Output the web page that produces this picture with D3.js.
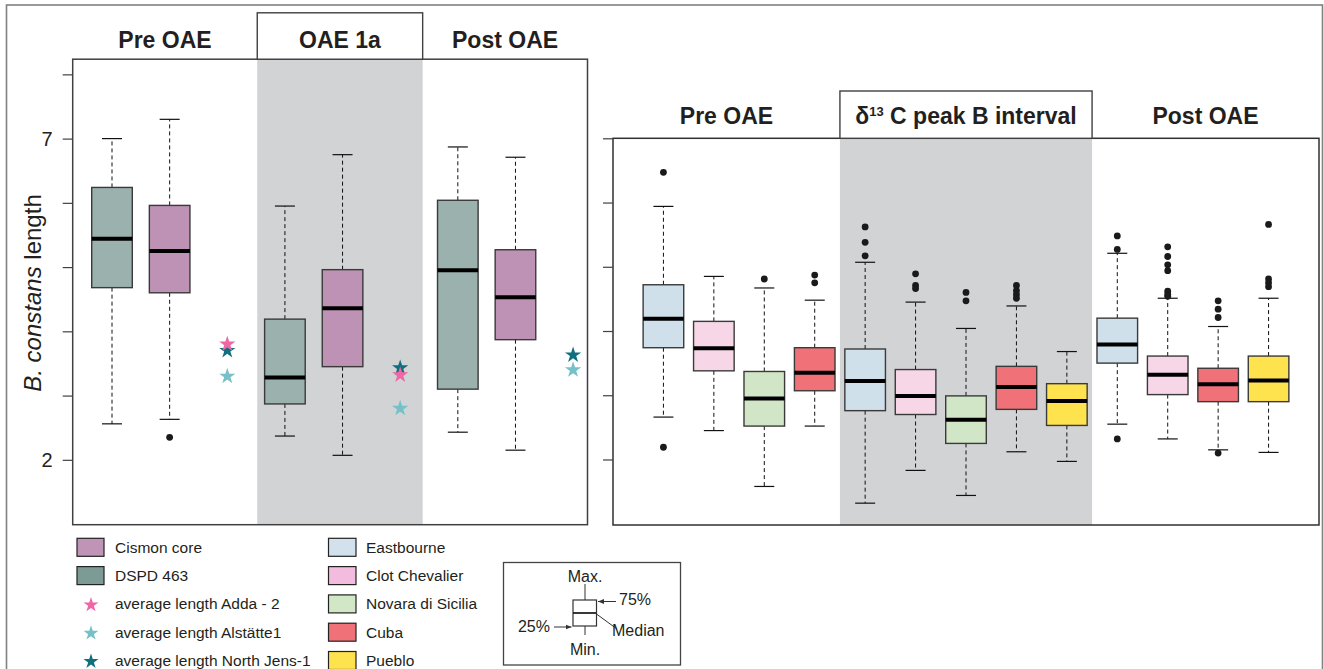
<!DOCTYPE html>
<html>
<head>
<meta charset="utf-8">
<script src="https://cdn.jsdelivr.net/npm/d3@7"></script>
<style>
  body { margin: 0; background: #fff; }
  text { font-family: "Liberation Sans", Arial, sans-serif; fill: #231f20; }
</style>
</head>
<body>
<div id="chart"></div>
<script>
// ---- left panel data (B. constans length) ----
const leftGroups = ["Pre OAE", "OAE 1a", "Post OAE"];
// [min, q1, median, q3, max]
const dspd463 = [[2.56, 4.68, 5.44, 6.24, 7.0], [2.37, 2.87, 3.28, 4.19, 5.95], [2.43, 3.1, 4.95, 6.04, 6.87]];
const cismonCore = [[2.63, 4.6, 5.25, 5.96, 7.3], [2.07, 3.45, 4.36, 4.96, 6.75], [2.15, 3.87, 4.53, 5.27, 6.71]];
const cismonOutliers = [[2.35], [], []];
const avgAdda2 = [3.8, 3.32, null];
const avgAlstatte1 = [3.3, 2.8, 3.4];
const avgNorthJens1 = [3.7, 3.43, 3.63];

// ---- right panel data ----
const rightGroups = ["Pre OAE", "peak B", "Post OAE"];
const rightSites = [
  ["Eastbourne", "Clot Chevalier", "Novara di Sicilia", "Cuba"],
  ["Eastbourne", "Clot Chevalier", "Novara di Sicilia", "Cuba", "Pueblo"],
  ["Eastbourne", "Clot Chevalier", "Cuba", "Pueblo"]
];
const rightStats = [
  [[2.66, 3.74, 4.19, 4.72, 5.94], [2.45, 3.38, 3.73, 4.15, 4.85], [1.58, 2.52, 2.95, 3.37, 4.67], [2.52, 3.07, 3.35, 3.74, 4.48]],
  [[1.32, 2.76, 3.22, 3.72, 5.07], [1.83, 2.7, 2.99, 3.4, 4.45], [1.44, 2.25, 2.62, 2.99, 4.04], [2.12, 2.78, 3.13, 3.45, 4.39], [1.97, 2.53, 2.91, 3.18, 3.68]],
  [[2.55, 3.5, 3.79, 4.2, 5.21], [2.32, 3.01, 3.32, 3.61, 4.51], [2.15, 2.9, 3.17, 3.42, 4.07], [2.11, 2.9, 3.23, 3.61, 4.51]]
];
const rightOutliers = [
  [[6.47, 2.19], [], [4.81], [4.87, 4.75]],
  [[5.62, 5.38, 5.17], [4.89, 4.71, 4.66], [4.6, 4.47], [4.71, 4.63, 4.57, 4.51], []],
  [[5.48, 5.27, 2.32], [5.31, 5.16, 5.03, 4.94, 4.62, 4.57, 4.54], [4.47, 4.34, 4.21, 2.1], [5.66, 4.81, 4.75, 4.69]]
];

const siteColor = {
  "Eastbourne": "#cfe0eb", "Clot Chevalier": "#f6d6e7", "Novara di Sicilia": "#d0e6c6",
  "Cuba": "#f07177", "Pueblo": "#fee24e"
};
const legendLeft = ["Cismon core", "DSPD 463", "average length Adda - 2", "average length Alstätte1", "average length North Jens-1"];
const legendLeftColor = ["#bf94b7", "#7c9b95", "#f067a6", "#76c1c8", "#0f6f7f"];
const legendRight = ["Eastbourne", "Clot Chevalier", "Novara di Sicilia", "Cuba", "Pueblo"];
const legendRightColor = ["#d2e1ec", "#f3bcdf", "#d1e7c5", "#f07177", "#fee24e"];

const width = 1324, height = 669;
const boxW = 40.6, capW = 20;

const svg = d3.select("#chart").append("svg")
  .attr("width", width).attr("height", height);

svg.append("rect").attr("x", 6.5).attr("y", 5).attr("width", 1316).attr("height", 700)
  .attr("fill", "#fff").attr("stroke", "#808080").attr("stroke-width", 1.6);

function drawBox(g, cx, y, s, color, outs) {
  const [mn, q1, md, q3, mx] = s;
  g.append("line").attr("x1", cx).attr("x2", cx).attr("y1", y(q3)).attr("y2", y(mx))
    .attr("stroke", "#111").attr("stroke-dasharray", "4,3");
  g.append("line").attr("x1", cx).attr("x2", cx).attr("y1", y(q1)).attr("y2", y(mn))
    .attr("stroke", "#111").attr("stroke-dasharray", "4,3");
  [mn, mx].forEach(v => g.append("line")
    .attr("x1", cx - capW / 2).attr("x2", cx + capW / 2).attr("y1", y(v)).attr("y2", y(v))
    .attr("stroke", "#111").attr("stroke-width", 1.2));
  g.append("rect").attr("x", cx - boxW / 2).attr("width", boxW)
    .attr("y", y(q3)).attr("height", y(q1) - y(q3))
    .attr("fill", color).attr("stroke", "#3a3a3a").attr("stroke-width", 1.4);
  g.append("line").attr("x1", cx - boxW / 2).attr("x2", cx + boxW / 2)
    .attr("y1", y(md)).attr("y2", y(md)).attr("stroke", "#000").attr("stroke-width", 4);
  (outs || []).forEach(v => g.append("circle").attr("cx", cx).attr("cy", y(v))
    .attr("r", 3.4).attr("fill", "#1a1a1a"));
}

function header(x0, x1, yBase, label, boxed, boxTop, boxBottom) {
  if (boxed) {
    svg.append("rect").attr("x", x0).attr("y", boxTop).attr("width", x1 - x0)
      .attr("height", boxBottom - boxTop).attr("fill", "#fff")
      .attr("stroke", "#404040").attr("stroke-width", 1.4);
  }
  const t = svg.append("text").attr("x", (x0 + x1) / 2).attr("y", yBase)
    .attr("text-anchor", "middle").style("font-size", "23px").style("font-weight", "bold");
  if (label === "peak B") {
    t.append("tspan").text("δ");
    t.append("tspan").attr("dy", -8).style("font-size", "13px").text("13");
    t.append("tspan").attr("dy", 8).text(" C peak B interval");
  } else {
    t.text(label);
  }
}

// ---------- left panel ----------
const lx = d3.scaleLinear().domain([0.318, 9.25]).range([72.7, 587.5]);
const ly = d3.scaleLinear().domain([0.99, 8.236]).range([524.7, 59.2]);
const leftBounds = [0.318, 3.52, 6.39, 9.25];

svg.append("rect").attr("x", lx(leftBounds[1])).attr("y", ly.range()[1])
  .attr("width", lx(leftBounds[2]) - lx(leftBounds[1]))
  .attr("height", ly.range()[0] - ly.range()[1]).attr("fill", "#d1d3d4");

const gl = svg.append("g");
leftGroups.forEach((grp, i) => {
  drawBox(gl, lx(3 * i + 1), ly, dspd463[i], "#9ab1ad", []);
  drawBox(gl, lx(3 * i + 2), ly, cismonCore[i], "#bd92b4", cismonOutliers[i]);
});

const star = d3.symbol(d3.symbolStar, 82);
[[avgAlstatte1, "#76c1c8"], [avgNorthJens1, "#0f6f7f"], [avgAdda2, "#f067a6"]].forEach(([arr, c]) => {
  arr.forEach((v, i) => {
    if (v == null) return;
    gl.append("path").attr("d", star())
      .attr("transform", `translate(${lx(3 * i + 3)},${ly(v)})`).attr("fill", c);
  });
});

svg.append("rect").attr("x", 72.7).attr("y", 59.2).attr("width", 587.5 - 72.7)
  .attr("height", 524.7 - 59.2).attr("fill", "none").attr("stroke", "#404040").attr("stroke-width", 1.5);

const leftAxis = svg.append("g").attr("transform", "translate(72.7,0)")
  .call(d3.axisLeft(ly).tickValues([2, 3, 4, 5, 6, 7, 8]).tickSize(10).tickPadding(10)
    .tickFormat(d => (d === 2 || d === 7) ? d : ""));
leftAxis.select(".domain").remove();
leftAxis.selectAll("line").attr("stroke", "#404040").attr("stroke-width", 1.2);
leftAxis.selectAll("text").style("font-size", "20px").attr("fill", "#231f20")
  .style("font-family", "Liberation Sans, Arial, sans-serif");

leftGroups.forEach((grp, i) => {
  header(lx(leftBounds[i]), lx(leftBounds[i + 1]), 48, grp, i === 1, 12.8, 59.2);
});

const yl = svg.append("text").attr("transform", "translate(41,293) rotate(-90)")
  .attr("text-anchor", "middle").style("font-size", "24px");
yl.append("tspan").style("font-style", "italic").text("B. constans");
yl.append("tspan").text(" length");

// ---------- right panel ----------
const rx = d3.scaleLinear().domain([0, 14]).range([613, 1319]);
const ry = d3.scaleLinear().domain([0.98, 7]).range([525, 138.3]);
const rightBounds = [0, 4.5, 9.5, 14];

svg.append("rect").attr("x", rx(rightBounds[1])).attr("y", ry.range()[1])
  .attr("width", rx(rightBounds[2]) - rx(rightBounds[1]))
  .attr("height", ry.range()[0] - ry.range()[1]).attr("fill", "#d1d3d4");

const gr = svg.append("g");
let pos = 1;
rightSites.forEach((sites, gi) => {
  sites.forEach((site, si) => {
    drawBox(gr, rx(pos), ry, rightStats[gi][si], siteColor[site], rightOutliers[gi][si]);
    pos++;
  });
});

svg.append("rect").attr("x", 613).attr("y", 138.3).attr("width", 1319 - 613)
  .attr("height", 525 - 138.3).attr("fill", "none").attr("stroke", "#303030").attr("stroke-width", 1.5);

const rightAxis = svg.append("g").attr("transform", "translate(613,0)")
  .call(d3.axisLeft(ry).tickValues([2, 3, 4, 5, 6, 7]).tickSize(10).tickFormat(""));
rightAxis.select(".domain").remove();
rightAxis.selectAll("line").attr("stroke", "#404040").attr("stroke-width", 1.2);

rightGroups.forEach((grp, i) => {
  header(rx(rightBounds[i]), rx(rightBounds[i + 1]), 124, grp, i === 1, 91, 138.3);
});

// ---------- legend ----------
const rowY = i => 547.3 + i * 28.3;
const leg = svg.append("g");
legendLeft.forEach((name, i) => {
  if (i < 2) {
    leg.append("rect").attr("x", 77).attr("y", rowY(i) - 9).attr("width", 27).attr("height", 18)
      .attr("fill", legendLeftColor[i]).attr("stroke", "#222").attr("stroke-width", 1.2);
  } else {
    leg.append("path").attr("d", d3.symbol(d3.symbolStar, 70)())
      .attr("transform", `translate(91,${rowY(i) + 1})`).attr("fill", legendLeftColor[i]);
  }
  leg.append("text").attr("x", 115).attr("y", rowY(i) + 5.5).style("font-size", "15.5px").text(name);
});
legendRight.forEach((name, i) => {
  leg.append("rect").attr("x", 328.5).attr("y", rowY(i) - 9).attr("width", 27.5).attr("height", 18)
    .attr("fill", legendRightColor[i]).attr("stroke", "#222").attr("stroke-width", 1.2);
  leg.append("text").attr("x", 366).attr("y", rowY(i) + 5.5).style("font-size", "15.5px").text(name);
});

// ---------- box key ----------
const key = svg.append("g");
svg.append("defs").append("marker").attr("id", "arr").attr("viewBox", "0 0 10 10")
  .attr("refX", 10).attr("refY", 5).attr("markerWidth", 6).attr("markerHeight", 6)
  .attr("orient", "auto").append("path").attr("d", "M0,1L10,5L0,9Z").attr("fill", "#333");
key.append("rect").attr("x", 503.5).attr("y", 562.5).attr("width", 177).attr("height", 102.5)
  .attr("fill", "#fff").attr("stroke", "#444").attr("stroke-width", 1.3);
key.append("line").attr("x1", 585).attr("x2", 585).attr("y1", 584).attr("y2", 635).attr("stroke", "#333");
key.append("rect").attr("x", 573).attr("y", 600).attr("width", 23.5).attr("height", 26)
  .attr("fill", "#fff").attr("stroke", "#333").attr("stroke-width", 1.2);
key.append("line").attr("x1", 573).attr("x2", 596.5).attr("y1", 613).attr("y2", 613)
  .attr("stroke", "#222").attr("stroke-width", 1.8);
key.append("line").attr("x1", 616).attr("x2", 598).attr("y1", 601.5).attr("y2", 601.5)
  .attr("stroke", "#333").attr("marker-end", "url(#arr)");
key.append("line").attr("x1", 554).attr("x2", 571.5).attr("y1", 627).attr("y2", 627)
  .attr("stroke", "#333").attr("marker-end", "url(#arr)");
key.append("line").attr("x1", 617).attr("x2", 596.5).attr("y1", 629).attr("y2", 614)
  .attr("stroke", "#333");
const keyText = [["Max.", 585, 582, "middle"], ["Min.", 585, 655, "middle"], ["75%", 619, 604.5, "start"],
  ["25%", 550, 631.5, "end"], ["Median", 612, 636, "start"]];
keyText.forEach(([t, x, y, a]) => key.append("text").attr("x", x).attr("y", y)
  .attr("text-anchor", a).style("font-size", "16px").text(t));
</script>
</body>
</html>
